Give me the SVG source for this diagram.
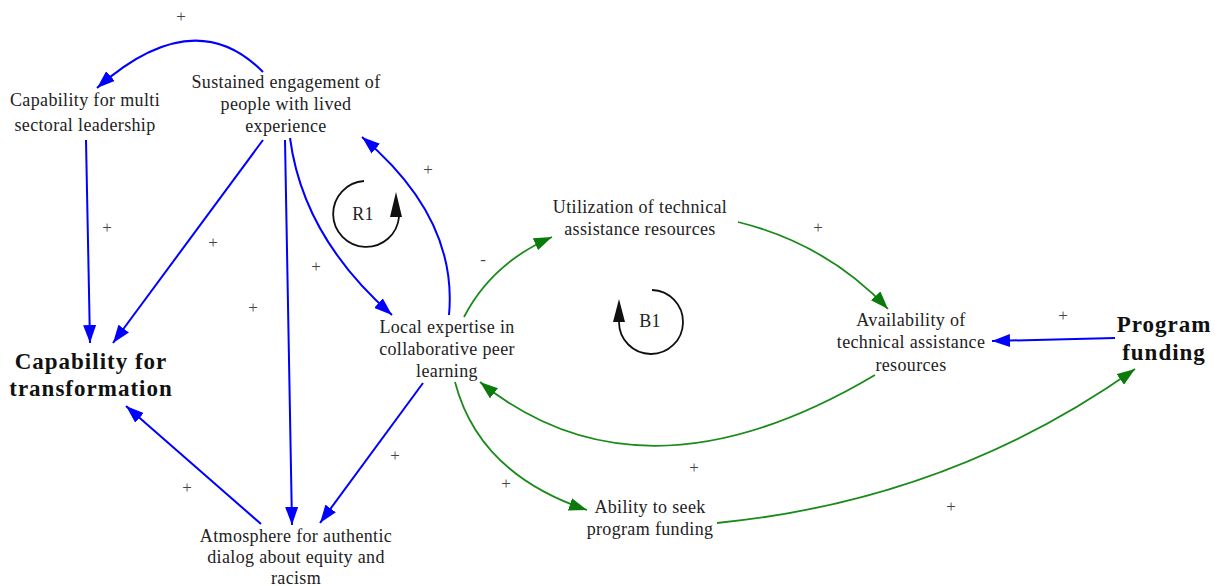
<svg xmlns="http://www.w3.org/2000/svg" width="1218" height="586" viewBox="0 0 1218 586">
<style>
.t{font-family:"Liberation Serif","Times New Roman",serif;font-size:18px;letter-spacing:0.35px;fill:#222;text-anchor:middle}
.b{font-family:"Liberation Serif","Times New Roman",serif;font-size:23px;font-weight:bold;fill:#111;text-anchor:middle;letter-spacing:1px}
.p{font-family:"Liberation Serif","Times New Roman",serif;font-size:17px;fill:#444;text-anchor:middle}
.bl{fill:none;stroke:#0000ff;stroke-width:2;marker-end:url(#ab)}
.gr{fill:none;stroke:#1a8a1a;stroke-width:1.8;marker-end:url(#ag)}
.loop{fill:none;stroke:#111;stroke-width:1.8}
</style>
<defs>
<marker id="ab" markerUnits="userSpaceOnUse" markerWidth="19" markerHeight="13" refX="18" refY="6.5" orient="auto"><path d="M0,0 L18,6.5 L0,13 z" fill="#0000ff"/></marker>
<marker id="ag" markerUnits="userSpaceOnUse" markerWidth="19" markerHeight="13" refX="18" refY="6.5" orient="auto"><path d="M0,0 L18,6.5 L0,13 z" fill="#0a7a0a"/></marker>
</defs>
<rect width="1218" height="586" fill="#fff"/>
<g id="connectors">
<path class="bl" d="M263,72 Q194,2 97,88"/>
<path class="bl" d="M86,140 L90,343"/>
<path class="bl" d="M263,140 L113,343"/>
<path class="bl" d="M285,140 L292,525"/>
<path class="bl" d="M290,138 Q303,237 392,315"/>
<path class="bl" d="M449,315 Q458,218 362,137"/>
<path class="bl" d="M261,524 L126,406"/>
<path class="bl" d="M423,383 L320,523"/>
<path class="bl" d="M1115,338 L992,341"/>
<path class="gr" d="M464,317 Q492,263 552,237"/>
<path class="gr" d="M738,222 Q827,244 888,309"/>
<path class="gr" d="M875,375 Q642,513 480,382"/>
<path class="gr" d="M455,382 Q479,474 587,510"/>
<path class="gr" d="M717,523 Q950,500 1135,369"/>
<g class="p">
<text x="181" y="22">+</text>
<text x="107" y="233">+</text>
<text x="213" y="248">+</text>
<text x="253" y="313">+</text>
<text x="316" y="272">+</text>
<text x="428" y="175">+</text>
<text x="187" y="493">+</text>
<text x="395" y="461">+</text>
<text x="483" y="265">-</text>
<text x="818" y="233">+</text>
<text x="1063" y="321">+</text>
<text x="694" y="473">+</text>
<text x="506" y="489">+</text>
<text x="951" y="512">+</text>
</g>
</g>
<g id="R1">
<path class="loop" d="M364,181 A33,33 0 1,0 399,217"/>
<polygon points="390,217 402,217 396,192" fill="#111"/>
<text class="t" x="363" y="220">R1</text>
</g>
<g id="B1">
<path class="loop" d="M652,290 A32,32 0 1,1 619,322"/>
<polygon points="613,322 625,322 619,299" fill="#111"/>
<text class="t" x="650" y="327">B1</text>
</g>
<g id="n-multi"><text class="t" x="85" y="106">Capability for multi</text><text class="t" x="85" y="131">sectoral leadership</text></g>
<g id="n-sustained"><text class="t" x="286" y="88">Sustained engagement of</text><text class="t" x="286" y="110">people with lived</text><text class="t" x="286" y="132">experience</text></g>
<g id="n-transform"><text class="b" x="91" y="369">Capability for</text><text class="b" x="91" y="396">transformation</text></g>
<g id="n-local"><text class="t" x="447" y="333">Local expertise in</text><text class="t" x="447" y="355">collaborative peer</text><text class="t" x="447" y="377">learning</text></g>
<g id="n-util"><text class="t" x="640" y="213">Utilization of technical</text><text class="t" x="640" y="235">assistance resources</text></g>
<g id="n-avail"><text class="t" x="911" y="326">Availability of</text><text class="t" x="911" y="348">technical assistance</text><text class="t" x="911" y="371">resources</text></g>
<g id="n-program"><text class="b" x="1164" y="332">Program</text><text class="b" x="1164" y="360">funding</text></g>
<g id="n-ability"><text class="t" x="650" y="513">Ability to seek</text><text class="t" x="650" y="535">program funding</text></g>
<g id="n-atmos"><text class="t" x="296" y="542">Atmosphere for authentic</text><text class="t" x="296" y="563">dialog about equity and</text><text class="t" x="296" y="584">racism</text></g>
</svg>
